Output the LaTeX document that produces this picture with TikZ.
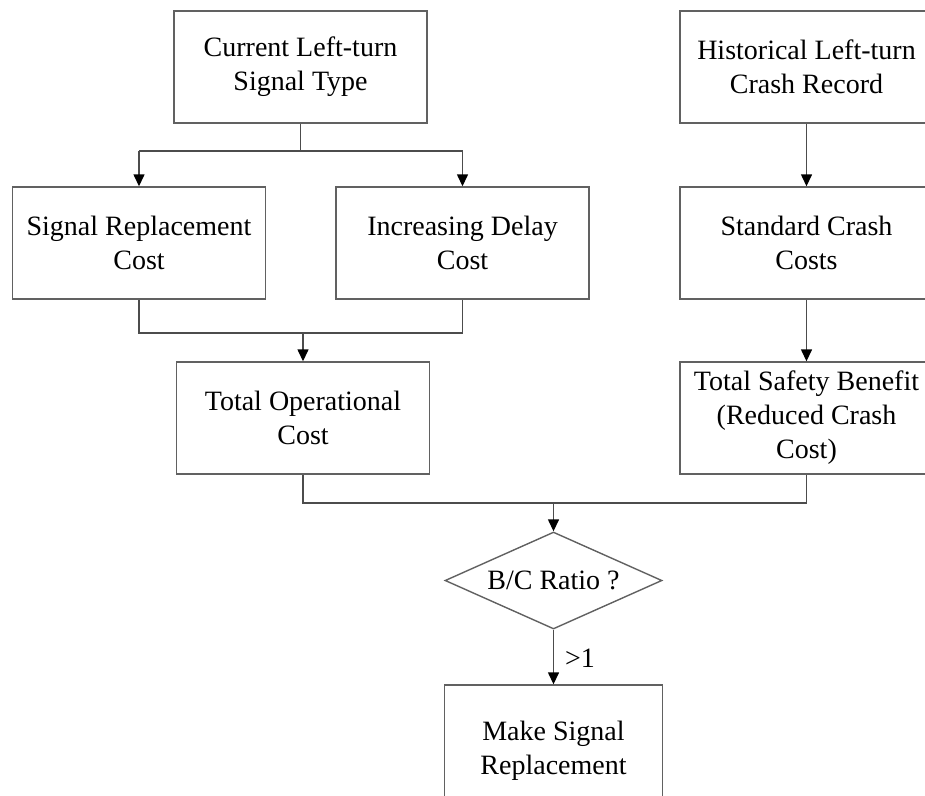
\documentclass[tikz,border=0pt]{standalone}
\usepackage{fontspec}
\setmainfont{Liberation Serif}
\usetikzlibrary{arrows.meta,shapes.geometric}
\begin{document}
\begin{tikzpicture}[x=1pt,y=1pt,
  box/.style={draw=black!62,line width=1.4pt,rectangle,align=center,inner sep=0pt,
    font=\fontsize{28pt}{34pt}\selectfont},
  wide/.style={box,minimum width=253pt,minimum height=112pt},
  dec/.style={draw=black!62,line width=1.4pt,diamond,aspect=2.24,inner sep=0pt,
    minimum width=217pt,minimum height=97pt,font=\fontsize{28pt}{34pt}\selectfont},
  conn/.style={draw=black!70,line width=1.4pt},
  arr/.style={conn,-{Triangle[length=12pt,width=11pt,color=black]}},
  lbl/.style={font=\fontsize{28pt}{34pt}\selectfont,inner sep=0pt}]
\useasboundingbox (0,0) rectangle (925,-795);
\clip (0,0) rectangle (925,-795);
\fill[white] (0,0) rectangle (925,-795);

\node[wide] (cur) at (300.5,-67) {Current Left-turn\\Signal Type};
\node[wide] (hist) at (806.5,-67) {Historical Left-turn\\Crash Record};
\node[wide] (srep) at (139,-243) {Signal Replacement\\Cost};
\node[wide] (idel) at (462.5,-243) {Increasing Delay\\Cost};
\node[wide] (scc) at (806.5,-243) {Standard Crash\\Costs};
\node[wide] (top) at (303,-418) {Total Operational\\Cost};
\node[wide] (tsb) at (806.5,-418) {Total Safety Benefit\\(Reduced Crash\\Cost)};
\node[dec] (dia) at (553.5,-580.5) {B/C Ratio ?};
\node[box,minimum width=218pt,minimum height=132pt] (make) at (553.5,-751) {Make Signal\\Replacement};
\node[lbl] (gt) at (580,-658) {>1};

\coordinate (split) at (300.5,-151);
\coordinate (splitL) at (139,-151);
\coordinate (splitR) at (462.5,-151);
\coordinate (mergeA) at (303,-333);
\coordinate (mergeL) at (139,-333);
\coordinate (mergeR) at (462.5,-333);
\coordinate (mergeB) at (553.5,-503);
\coordinate (mergeBL) at (303,-503);
\coordinate (mergeBR) at (806.5,-503);

\draw[conn] (cur.south) -- (split);
\draw[conn] (splitL) -- (splitR);
\draw[arr] (splitL) -- (srep.north);
\draw[arr] (splitR) -- (idel.north);
\draw[arr] (hist.south) -- (scc.north);
\draw[arr] (scc.south) -- (tsb.north);
\draw[conn] (srep.south) -- (mergeL) -- (mergeR) -- (idel.south);
\draw[arr] (mergeA) -- (top.north);
\draw[conn] (top.south) -- (mergeBL) -- (mergeBR) -- (tsb.south);
\draw[arr] (mergeB) -- (dia.north);
\draw[arr] (dia.south) -- (make.north);
\end{tikzpicture}
\end{document}
